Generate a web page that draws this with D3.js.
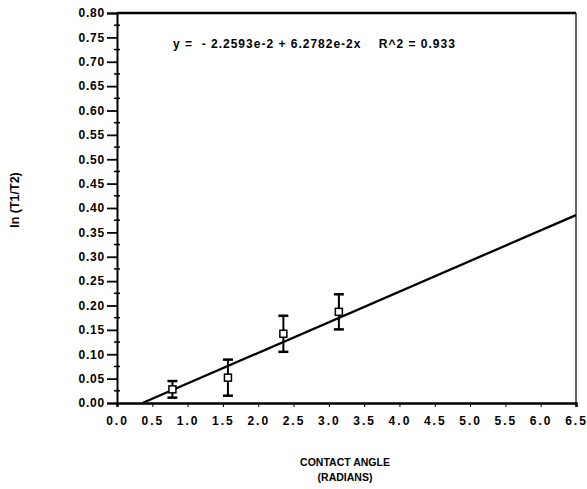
<!DOCTYPE html>
<html>
<head>
<meta charset="utf-8">
<script src="https://cdn.jsdelivr.net/npm/d3@7"></script>
<style>
  body { margin: 0; background: #fff; }
  svg text { font-family: "Liberation Sans", Arial, sans-serif; fill: #000; }
</style>
</head>
<body>
<svg id="chart" width="587" height="489"></svg>
<script>
// measured points (contact angle in radians, ln(T1/T2), error)
const angles = [0.785, 1.571, 2.356, 3.142];
const lnRatio = [0.028, 0.052, 0.142, 0.187];
const errors = [0.017, 0.037, 0.037, 0.036];

// fitted line y = a + b x
const intercept = -0.022593;
const slope = 0.062782;
const fitLabel = "y =  - 2.2593e-2 + 6.2782e-2x    R^2 = 0.933";

const xTicks = d3.range(0, 6.51, 0.5);
const yTicks = d3.range(0, 0.801, 0.05);

const svg = d3.select("#chart");
const margin = { left: 117, right: 11, top: 13, bottom: 86 };
const width = 587 - margin.left - margin.right;
const height = 489 - margin.top - margin.bottom;

const x = d3.scaleLinear().domain([0, 6.5]).range([0, width]);
const y = d3.scaleLinear().domain([0, 0.8]).range([height, 0]);

const g = svg.append("g").attr("transform", "translate(" + margin.left + "," + margin.top + ")");

// frame: top and right
g.append("line").attr("x1", 0).attr("x2", width).attr("y1", 0).attr("y2", 0)
  .attr("stroke", "#000").attr("stroke-width", 2.5);
g.append("line").attr("x1", width).attr("x2", width).attr("y1", 0).attr("y2", height)
  .attr("stroke", "#000").attr("stroke-width", 1.2);

// y axis
const yAxis = g.append("g")
  .call(d3.axisLeft(y).tickValues(yTicks).tickSize(10).tickPadding(2).tickFormat(d3.format(".2f")));
yAxis.select(".domain").attr("stroke-width", 2);
yAxis.selectAll(".tick line").attr("stroke-width", 1.8);
yAxis.selectAll("text").attr("font-size", 12).attr("font-weight", "bold")
  .attr("letter-spacing", "0.8px");
// minor y ticks
g.selectAll(".yminor").data(d3.range(0.025, 0.8, 0.05)).enter().append("line")
  .attr("x1", -3).attr("x2", 3)
  .attr("y1", d => y(d)).attr("y2", d => y(d))
  .attr("stroke", "#000").attr("stroke-width", 1.5);

// x axis
const xAxis = g.append("g").attr("transform", "translate(0," + height + ")")
  .call(d3.axisBottom(x).tickValues(xTicks).tickSize(4).tickPadding(9).tickFormat(d3.format(".1f")));
xAxis.select(".domain").attr("stroke-width", 2.5);
xAxis.selectAll(".tick line").attr("stroke-width", 1);
xAxis.selectAll("text").attr("font-size", 12).attr("font-weight", "bold")
  .attr("letter-spacing", "2px");

// regression line, from where it crosses zero to the right edge
const x0 = -intercept / slope;
g.append("line")
  .attr("x1", x(x0)).attr("y1", y(intercept + slope * x0))
  .attr("x2", x(6.5)).attr("y2", y(intercept + slope * 6.5))
  .attr("stroke", "#000").attr("stroke-width", 2.3);

// error bars
const pts = angles.map((a, i) => ({ a: a, v: lnRatio[i], e: errors[i] }));
const eb = g.selectAll(".err").data(pts).enter().append("g");
eb.append("line")
  .attr("x1", d => x(d.a)).attr("x2", d => x(d.a))
  .attr("y1", d => y(d.v + d.e)).attr("y2", d => y(d.v - d.e))
  .attr("stroke", "#000").attr("stroke-width", 2);
eb.append("line")
  .attr("x1", d => x(d.a) - 5).attr("x2", d => x(d.a) + 5)
  .attr("y1", d => y(d.v + d.e)).attr("y2", d => y(d.v + d.e))
  .attr("stroke", "#000").attr("stroke-width", 2.5);
eb.append("line")
  .attr("x1", d => x(d.a) - 5).attr("x2", d => x(d.a) + 5)
  .attr("y1", d => y(d.v - d.e)).attr("y2", d => y(d.v - d.e))
  .attr("stroke", "#000").attr("stroke-width", 2.5);

// markers
g.selectAll(".pt").data(pts).enter().append("rect")
  .attr("x", d => x(d.a) - 3.5).attr("y", d => y(d.v) - 3.5)
  .attr("width", 7).attr("height", 7)
  .attr("fill", "#fff").attr("stroke", "#000").attr("stroke-width", 1.5);

// equation
g.append("text").attr("x", 56).attr("y", 35)
  .attr("font-size", 12).attr("font-weight", "bold").attr("letter-spacing", "1px")
  .style("white-space", "pre")
  .text(fitLabel);

// axis titles
svg.append("text")
  .attr("transform", "translate(19,200) rotate(-90)")
  .attr("text-anchor", "middle").attr("font-size", 12.5).attr("font-weight", "bold")
  .text("ln  (T1/T2)");
svg.append("text").attr("x", 345).attr("y", 466)
  .attr("text-anchor", "middle").attr("font-size", 10.5).attr("font-weight", "bold")
  .text("CONTACT ANGLE");
svg.append("text").attr("x", 345).attr("y", 481)
  .attr("text-anchor", "middle").attr("font-size", 10.5).attr("font-weight", "bold")
  .text("(RADIANS)");
</script>
</body>
</html>
